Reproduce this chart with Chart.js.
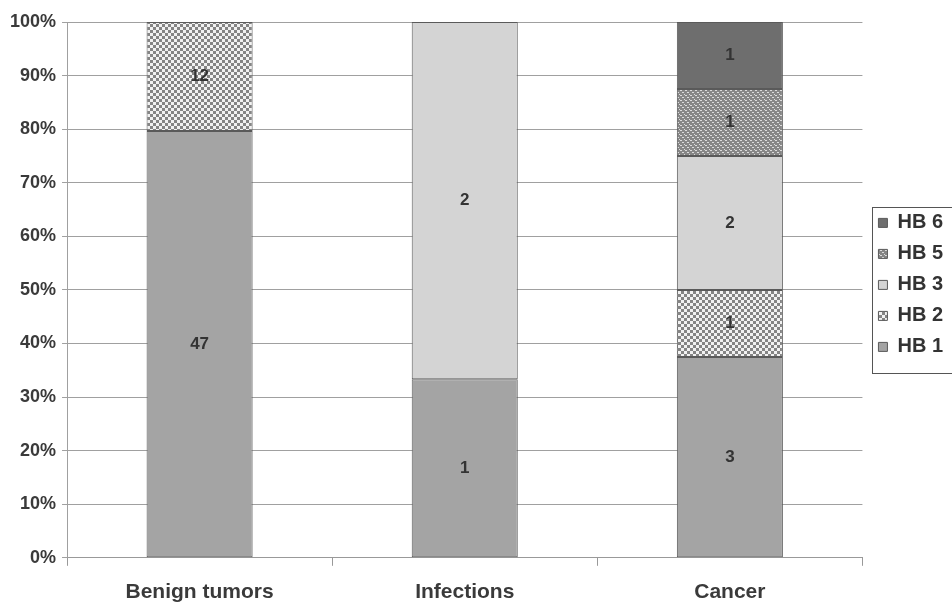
<!DOCTYPE html>
<html>
<head>
<meta charset="utf-8">
<script src="https://cdn.jsdelivr.net/npm/chart.js@4.4.1/dist/chart.umd.min.js"></script>
<style>
  html, body { margin: 0; padding: 0; background: #fff; }
  #wrap { width: 952px; height: 603px; }
</style>
</head>
<body>
<div id="wrap"><canvas id="chart" width="952" height="603"></canvas></div>
<script>
const categories = ['Benign tumors', 'Infections', 'Cancer'];
const seriesNames = ['HB 1', 'HB 2', 'HB 3', 'HB 5', 'HB 6'];
const hb1 = [47, 1, 3];
const hb2 = [12, 0, 1];
const hb3 = [0, 2, 2];
const hb5 = [0, 0, 1];
const hb6 = [0, 0, 1];
const counts = [hb1, hb2, hb3, hb5, hb6];
const yTicks = [0, 10, 20, 30, 40, 50, 60, 70, 80, 90, 100];

// totals per category, to turn counts into shares
const totals = categories.map((c, i) => counts.reduce((s, arr) => s + arr[i], 0));

function makePattern(size, bg, fg, cells) {
  const c = document.createElement('canvas');
  c.width = size; c.height = size;
  const x = c.getContext('2d');
  x.fillStyle = bg;
  x.fillRect(0, 0, size, size);
  x.fillStyle = fg;
  cells.forEach(r => x.fillRect(r[0], r[1], r[2], r[3]));
  return x.createPattern(c, 'repeat');
}

const ctx = document.getElementById('chart').getContext('2d');
const FONT = '"Liberation Sans", Arial, sans-serif';

const fills = [
  '#a4a4a4',
  makePattern(6, '#f2f2f2', '#858585', [[0, 0, 3, 3], [3, 3, 3, 3]]),
  '#d4d4d4',
  makePattern(5, '#868686', '#dcdcdc', [[0, 0, 2, 1], [2, 2, 2, 1], [4, 4, 1, 1]]),
  '#6e6e6e'
];

const valueLabels = {
  id: 'valueLabels',
  afterDatasetsDraw(chart) {
    const c = chart.ctx;
    c.save();
    c.font = 'bold 17px ' + FONT;
    c.fillStyle = '#333';
    c.textAlign = 'center';
    c.textBaseline = 'middle';
    chart.data.datasets.forEach((ds, di) => {
      const meta = chart.getDatasetMeta(di);
      meta.data.forEach((el, i) => {
        const n = counts[di][i];
        if (!n) return;
        const p = el.getProps(['x', 'y', 'base'], true);
        c.fillText(String(n), p.x, (p.y + p.base) / 2);
      });
    });
    c.restore();
  }
};

// move the legend a little: centred slightly above the plot middle, nudged right
const legendPlace = {
  id: 'legendPlace',
  afterLayout(chart) {
    const lg = chart.legend, a = chart.chartArea;
    lg.top = a.top;
    lg.bottom = a.bottom - 10;
    lg.left += 5;
    lg.right += 5;
  }
};

const legendBorder = {
  id: 'legendBorder',
  afterDraw(chart) {
    const boxes = chart.legend.legendHitBoxes;
    if (!boxes || !boxes.length) return;
    let x0 = Infinity, y0 = Infinity, x1 = -Infinity, y1 = -Infinity;
    boxes.forEach(b => {
      x0 = Math.min(x0, b.left); y0 = Math.min(y0, b.top);
      x1 = Math.max(x1, b.left + b.width); y1 = Math.max(y1, b.top + b.height);
    });
    const c = chart.ctx;
    c.save();
    c.strokeStyle = '#555';
    c.lineWidth = 1;
    c.strokeRect(Math.round(x0 - 6) + 0.5, Math.round(y0 - 6) + 0.5, (x1 - x0) + 30, (y1 - y0) + 22);
    c.restore();
  }
};

new Chart(ctx, {
  type: 'bar',
  data: {
    labels: categories,
    datasets: seriesNames.map((name, di) => ({
      label: name,
      data: counts[di].map((v, i) => v / totals[i] * 100),
      backgroundColor: fills[di],
      borderColor: '#5a5a5a',
      borderWidth: 1,
      borderSkipped: false,
      barPercentage: 0.4,
      categoryPercentage: 1.0
    }))
  },
  options: {
    responsive: false,
    animation: false,
    layout: { padding: { top: 22, left: 4, right: 4, bottom: -16 } },
    plugins: {
      tooltip: { enabled: false },
      legend: {
        position: 'right',
        reverse: true,
        labels: {
          boxWidth: 9,
          boxHeight: 9,
          padding: 11,
          color: '#333',
          font: { family: FONT, size: 20, weight: 'bold' }
        }
      }
    },
    scales: {
      x: {
        stacked: true,
        grid: { drawOnChartArea: false, color: '#999', tickLength: 8, offset: true },
        border: { color: '#999' },
        ticks: {
          color: '#3a3a3a',
          padding: 14,
          font: { family: FONT, size: 21, weight: 'bold' }
        }
      },
      y: {
        stacked: true,
        min: 0,
        max: 100,
        afterBuildTicks(axis) { axis.ticks = yTicks.map(v => ({ value: v })); },
        grid: { color: '#a0a0a0', tickLength: 5 },
        border: { color: '#a0a0a0' },
        ticks: {
          color: '#3a3a3a',
          padding: 6,
          callback: v => v + '%',
          font: { family: FONT, size: 18, weight: 'bold' }
        }
      }
    }
  },
  plugins: [valueLabels, legendPlace, legendBorder]
});
</script>
</body>
</html>
